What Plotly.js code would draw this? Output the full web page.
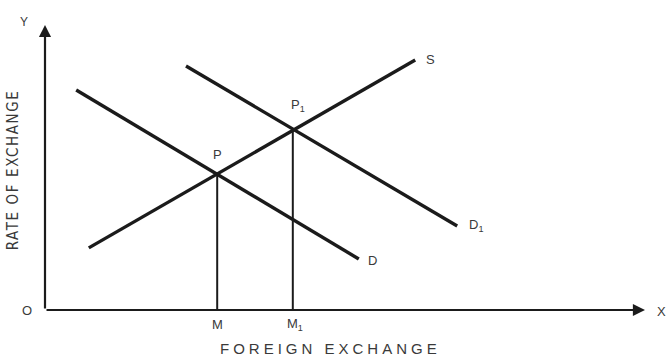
<!DOCTYPE html>
<html>
<head>
<meta charset="utf-8">
<script src="https://cdn.plot.ly/plotly-3.0.1.min.js"></script>
<style>
    html, body { margin: 0; padding: 0; background: #fff; }
    #chart { width: 666px; height: 358px; }
</style>
</head>
<body>
<div id="chart"></div>
<script>
// curves (x: foreign exchange, y: rate of exchange, 0-100)
const demandX = [5.2, 52.3];
const demandY = [77.2, 17.9];
const demand1X = [23.5, 68.7];
const demand1Y = [85.6, 29.5];
const supplyX = [7.3, 61.7];
const supplyY = [21.8, 87.7];

// equilibrium points P and P1
const eqNames = ["P", "P<sub>1</sub>"];
const eqX = [28.7, 41.3];
const eqY = [47.7, 63.2];
const footNames = ["M", "M<sub>1</sub>"];

// curve end labels
const curveNames = ["S", "D<sub>1</sub>", "D"];
const curveLabelX = [64.2, 71.8, 54.6];
const curveLabelY = [87.9, 29.5, 17.4];

const INK = "#1b1b1b";
const TXT = "#3a3a3a";
const FONT = "Liberation Sans, Arial, sans-serif";

var traces = [];
function addLine(xs, ys, w) {
    traces.push({
        x: xs, y: ys,
        type: 'scatter', mode: 'lines',
        line: { color: INK, width: w },
        hoverinfo: 'skip', showlegend: false,
        cliponaxis: false
    });
}
addLine(demandX, demandY, 3.4);
addLine(demand1X, demand1Y, 3.4);
addLine(supplyX, supplyY, 3.4);
// drop lines from P and P1 to the x axis
for (var i = 0; i < eqX.length; i++) {
    addLine([eqX[i], eqX[i]], [0, eqY[i]], 2);
}

var annotations = [];
// labels are placed in paper units (axis ranges are 0-100, so paper = value / 100)
// so that the ones outside the plot area are still drawn
function label(text, x, y, size, extra) {
    var a = {
        x: x / 100, y: y / 100, xref: 'paper', yref: 'paper',
        xanchor: 'center', yanchor: 'middle',
        text: text, showarrow: false,
        font: { family: FONT, size: size, color: TXT }
    };
    Object.assign(a, extra || {});
    annotations.push(a);
}

// axes with arrow heads
annotations.push({ x: 100, y: 0, ax: 0, ay: 0, xref: 'x', yref: 'y', axref: 'x', ayref: 'y',
    text: '', showarrow: true, arrowhead: 2, arrowsize: 1.1, arrowwidth: 2.2, arrowcolor: INK });
annotations.push({ x: 0, y: 100, ax: 0, ay: 0, xref: 'x', yref: 'y', axref: 'x', ayref: 'y',
    text: '', showarrow: true, arrowhead: 2, arrowsize: 1.1, arrowwidth: 2.2, arrowcolor: INK });

label("O", -3.0, 0, 13);
label("Y", -3.5, 101, 12);
label("X", 102.8, -0.5, 13);

label(eqNames[0], eqX[0], eqY[0] + 6.8, 13);
label(eqNames[1], eqX[1] + 0.9, eqY[1] + 8.4, 13);
for (var i = 0; i < footNames.length; i++) {
    label(footNames[i], eqX[i] + (i ? 0.3 : 0), -5.2, 13);
}
for (var i = 0; i < curveNames.length; i++) {
    label(curveNames[i], curveLabelX[i], curveLabelY[i], 13);
}

label('<span style="letter-spacing:4px">FOREIGN EXCHANGE</span>', 47.6, -13.5, 15);
label('<span style="letter-spacing:1.6px">RATE OF EXCHANGE</span>', -5.2, 49.3, 14,
    { textangle: -90, font: { family: "Liberation Sans Narrow, DejaVu Sans Condensed, sans-serif", size: 15, color: TXT } });

var layout = {
    width: 666, height: 358,
    margin: { l: 45, r: 21, t: 25, b: 48 },
    paper_bgcolor: '#fff', plot_bgcolor: '#fff',
    xaxis: { range: [0, 100], visible: false, fixedrange: true },
    yaxis: { range: [0, 100], visible: false, fixedrange: true },
    annotations: annotations,
    showlegend: false
};
Plotly.newPlot('chart', traces, layout, { staticPlot: true });
</script>
</body>
</html>
